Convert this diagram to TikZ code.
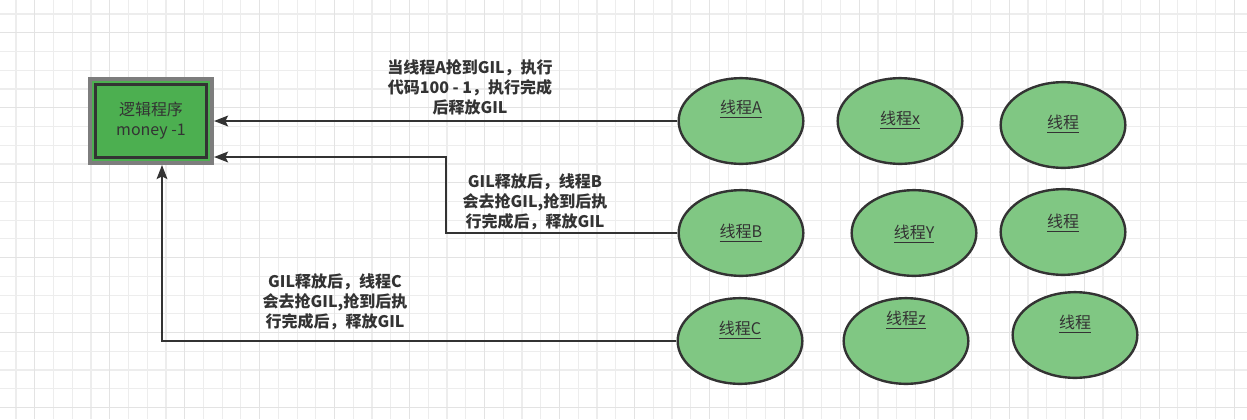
\documentclass[tikz,border=0pt]{standalone}
\usepackage{fontspec}
\setmainfont{Noto Sans CJK SC}
\usetikzlibrary{arrows.meta,shapes.geometric}
\definecolor{ink}{HTML}{333333}
\definecolor{gridminor}{HTML}{EDEDED}
\definecolor{gridmajor}{HTML}{E3E3E3}
\definecolor{boxgreen}{HTML}{4CAF50}
\definecolor{boxedge}{HTML}{7D7D7D}
\definecolor{thread}{HTML}{80C783}
\tikzset{
  threadnode/.style={ellipse, draw=ink, line width=1.8pt, fill=thread,
    minimum width=93.5pt, minimum height=64.25pt, inner sep=0pt},
  tlabel/.style={text=ink, font=\fontsize{12}{15}\selectfont, inner sep=0pt},
  elabel/.style={text=ink, font=\bfseries\fontsize{12}{15}\selectfont, align=center, inner sep=0pt},
  arr/.style={draw=ink, line width=1.7pt, -{Stealth[length=10.5pt,width=8pt,inset=2pt]}},
  logicbox/.style={rectangle, draw=boxedge, line width=3pt, fill=boxgreen,
    minimum width=91.5pt, minimum height=63pt, inner sep=0pt, text=ink,
    font=\fontsize{12}{15}\selectfont, align=center,
    path picture={\draw[ink, line width=1.9pt]
      ([shift={(5.5,5.5)}]path picture bounding box.north west) rectangle
      ([shift={(-5.5,-5.5)}]path picture bounding box.south east);}}
}
\begin{document}
\begin{tikzpicture}[x=0.75pt, y=-0.75pt]
\useasboundingbox (0,0) rectangle (1247,419);
\fill[white] (0,0) rectangle (1247,419);
% grid
\foreach \i in {0,...,65} {
  \draw[gridminor, line width=0.9pt] ({16+18.74*\i},0) -- ({16+18.74*\i},419);
}
\foreach \j in {0,...,21} {
  \draw[gridminor, line width=0.9pt] (0,{14+18.74*\j}) -- (1247,{14+18.74*\j});
}
\foreach \i in {1,5,...,65} {
  \draw[gridmajor, line width=0.9pt] ({16+18.74*\i},0) -- ({16+18.74*\i},419);
}
\foreach \j in {1,5,...,21} {
  \draw[gridmajor, line width=0.9pt] (0,{14+18.74*\j}) -- (1247,{14+18.74*\j});
}

% logic box
\node[logicbox] (box) at (151,121) {逻辑程序\\money -1};

% threads
\node[threadnode, label={[tlabel, yshift=9pt]center:\underline{线程A}}] (A) at (741,121) {};
\node[threadnode, label={[tlabel, yshift=0.75pt]center:\underline{线程x}}] (X) at (900,121) {};
\node[threadnode, label={[tlabel, yshift=0.75pt]center:\underline{线程}}] (T1) at (1063,125) {};
\node[threadnode, label={[tlabel]center:\underline{线程B}}] (B) at (741,233) {};
\node[threadnode, label={[tlabel, yshift=-0.75pt]center:\underline{线程Y}}] (Y) at (914,233) {};
\node[threadnode, label={[tlabel, yshift=6.75pt]center:\underline{线程}}] (T2) at (1063,232) {};
\node[threadnode, label={[tlabel, yshift=8.25pt]center:\underline{线程C}}] (C) at (740,341) {};
\node[threadnode, label={[tlabel, yshift=15.75pt]center:\underline{线程z}}] (Z) at (906,341) {};
\node[threadnode, label={[tlabel, yshift=8.25pt]center:\underline{线程}}] (T3) at (1075,335) {};

% connectors
\coordinate (bend2) at (446,233);
\coordinate (bend3) at (162,341);
\draw[arr] (A.west) -- (A.west -| box.east);
\draw[arr] (B.west) -- (bend2) |- ([shift={(0,36)}]box.east);
\draw[arr] (C.west) -- (bend3) -- (bend3 |- box.south);

% labels
\node[elabel] (l1) at (470,87) {当线程A抢到GIL，执行\\代码100 - 1，执行完成\\后释放GIL};
\node[elabel] (l2) at (535,202) {GIL释放后，线程B\\会去抢GIL,抢到后执\\行完成后，释放GIL};
\node[elabel] (l3) at (335,302) {GIL释放后，线程C\\会去抢GIL,抢到后执\\行完成后，释放GIL};
\end{tikzpicture}
\end{document}
